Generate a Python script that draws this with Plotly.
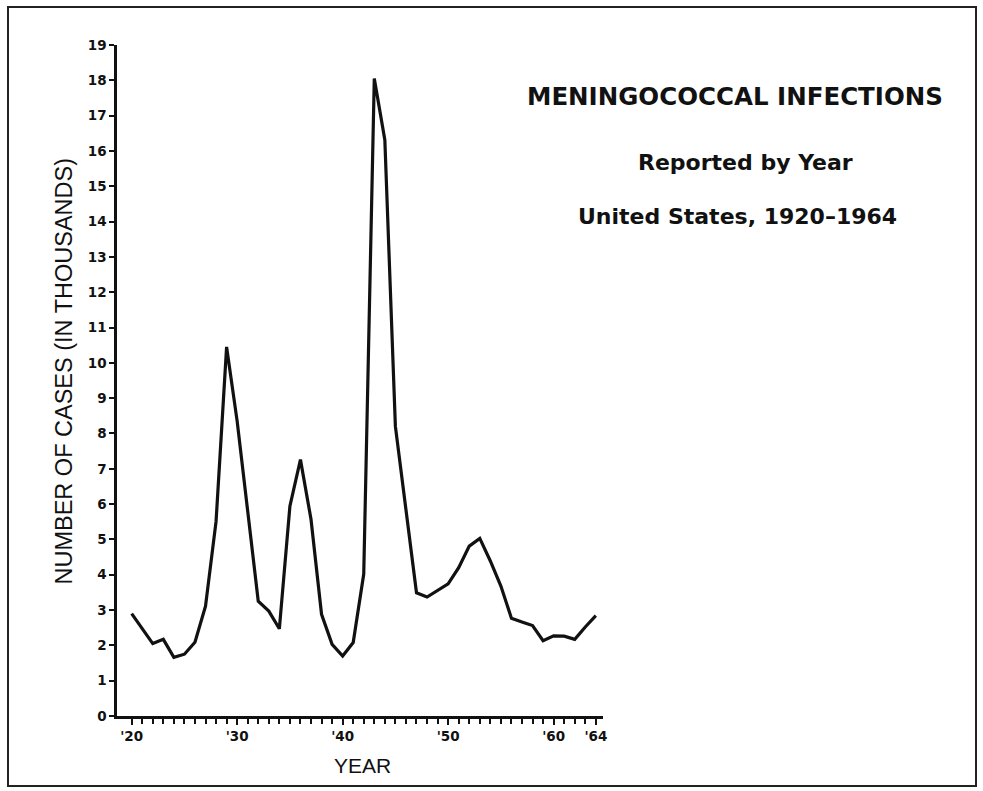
import plotly.graph_objects as go

years = list(range(1920, 1965))
cases_thousands = [
    2.90, 2.48, 2.05, 2.17, 1.66, 1.75, 2.09, 3.11, 5.51, 10.45,
    8.35, 5.80, 3.25, 2.97, 2.47, 5.94, 7.26, 5.57, 2.88, 2.03,
    1.70, 2.08, 4.02, 18.05, 16.31, 8.20, 5.90, 3.49, 3.37, 3.55,
    3.74, 4.20, 4.81, 5.03, 4.39, 3.68, 2.77, 2.66, 2.56, 2.13,
    2.27, 2.26, 2.17, 2.52, 2.84,
]
x_tick_vals = [1920, 1930, 1940, 1950, 1960, 1964]
x_tick_text = ["'20", "'30", "'40", "'50", "'60", "'64"]
y_tick_vals = list(range(0, 20))
minor_years = list(range(1920, 1965))

title_main = "MENINGOCOCCAL INFECTIONS"
title_sub1 = "Reported by Year"
title_sub2 = "United States, 1920\u20131964"
y_title = "NUMBER OF CASES (IN THOUSANDS)"
x_title = "YEAR"

fig = go.Figure()
fig.add_trace(go.Scatter(
    x=years, y=cases_thousands, mode="lines",
    line=dict(color="#111111", width=3.2),
    hoverinfo="x+y", showlegend=False,
))

W, H = 983, 791
ML, MR, MT, MB = 117, 380, 45, 75
PW, PH = W - ML - MR, H - MT - MB


def px(xpix):
    return (xpix - ML) / PW


def py(ypix):
    return (H - MB - ypix) / PH


bold_font = "DejaVu Sans"

fig.update_layout(
    width=W, height=H,
    margin=dict(l=ML, r=MR, t=MT, b=MB, pad=0),
    paper_bgcolor="white", plot_bgcolor="white",
    showlegend=False,
    xaxis=dict(
        range=[1918.61, 1964.68],
        showgrid=False, zeroline=False,
        showline=True, linecolor="#111111", linewidth=2.5,
        tickmode="array", tickvals=x_tick_vals, ticktext=x_tick_text,
        ticks="outside", ticklen=6, tickwidth=2, tickcolor="#111111",
        tickfont=dict(family=bold_font, size=13.5, color="#111111", weight="bold"),
        minor=dict(tickmode="array", tickvals=minor_years, ticks="outside",
                   ticklen=5, tickwidth=2, tickcolor="#111111", showgrid=False),
    ),
    yaxis=dict(
        range=[0, 19],
        showgrid=False, zeroline=False,
        showline=True, linecolor="#111111", linewidth=2.5,
        tickmode="array", tickvals=y_tick_vals,
        ticks="outside", ticklen=5, tickwidth=2, tickcolor="#111111",
        tickfont=dict(family=bold_font, size=13.5, color="#111111", weight="bold"),
    ),
    annotations=[
        dict(text=title_main, x=px(735), y=py(97), xref="paper", yref="paper",
             xanchor="center", yanchor="middle", showarrow=False,
             font=dict(family=bold_font, size=24.5, color="#111111", weight="bold")),
        dict(text=title_sub1, x=px(745), y=py(163), xref="paper", yref="paper",
             xanchor="center", yanchor="middle", showarrow=False,
             font=dict(family=bold_font, size=22, color="#111111", weight="bold")),
        dict(text=title_sub2, x=px(737), y=py(216), xref="paper", yref="paper",
             xanchor="center", yanchor="middle", showarrow=False,
             font=dict(family=bold_font, size=22, color="#111111", weight="bold")),
        dict(text=y_title, x=px(63.5), y=py(371), xref="paper", yref="paper",
             xanchor="center", yanchor="middle", showarrow=False, textangle=-90,
             font=dict(family="Liberation Sans", size=23.5, color="#111111")),
        dict(text=x_title, x=px(362), y=py(766), xref="paper", yref="paper",
             xanchor="center", yanchor="middle", showarrow=False,
             font=dict(family="Liberation Sans", size=21, color="#111111")),
    ],
    shapes=[
        dict(type="rect", xref="paper", yref="paper",
             x0=px(8), x1=px(976), y0=py(786), y1=py(7),
             line=dict(color="#222222", width=2), fillcolor="rgba(0,0,0,0)",
             layer="below"),
    ],
)

fig.write_html("out.html",
               config={"displayModeBar": False},
               post_script="document.body.style.margin='0';document.body.style.overflow='hidden';")
